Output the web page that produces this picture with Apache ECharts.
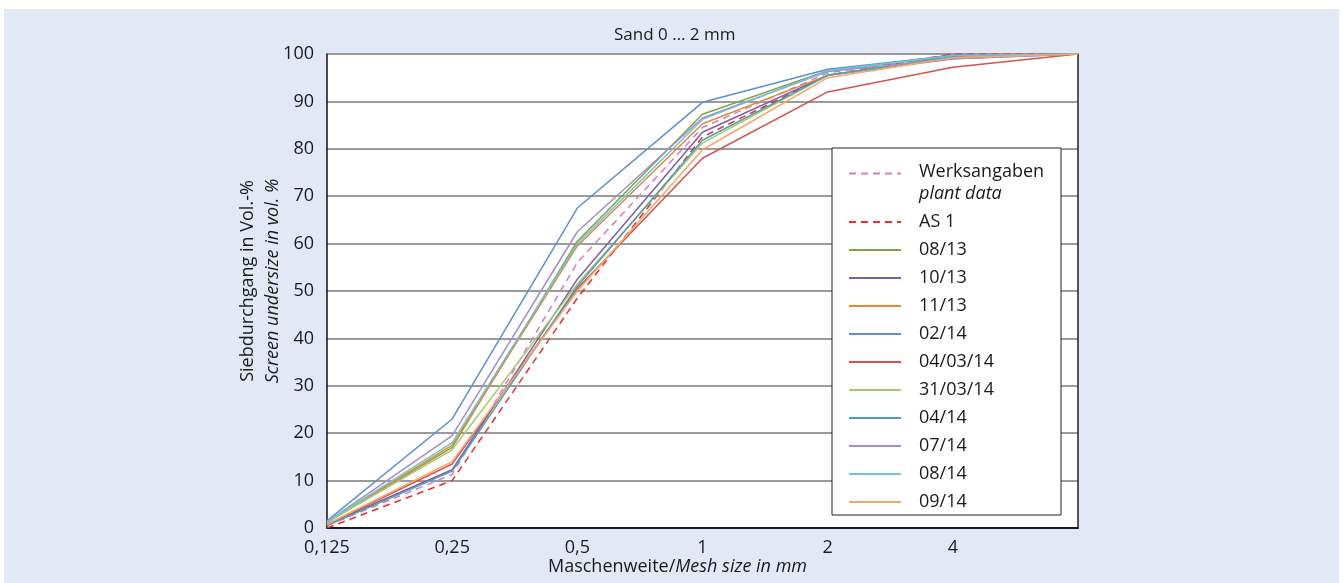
<!DOCTYPE html>
<html>
<head>
<meta charset="utf-8">
<script src="https://cdn.jsdelivr.net/npm/echarts@6/dist/echarts.min.js"></script>
<style>
html,body{margin:0;padding:0;background:#fff;}
#bg{position:absolute;left:4px;top:9px;width:1335px;height:574px;background:#e2e8f4;}
#chart{position:absolute;left:0;top:0;width:1343px;height:583px;}
</style>
</head>
<body>
<div id="bg"></div>
<div id="chart"></div>
<script>
// Mesh sizes (category axis, log-spaced)
const categories = ['0,125', '0,25', '0,5', '1', '2', '4', ''];
const yTicks = [0, 10, 20, 30, 40, 50, 60, 70, 80, 90, 100];

// Screen undersize in vol.-% per series
const werksangaben = [0.5, 11.3, 56, 84.5, 96, 100, 100];
const as1          = [0, 10, 48.5, 82.5, 95.5, 100, 100];
const s0813        = [1.2, 17, 60.5, 87.3, 96.5, 99.5, 100];
const s1013        = [0.8, 12.3, 52.5, 83.5, 95.5, 99, 100];
const s1113        = [1.2, 17.5, 59.5, 85.3, 95.5, 99.3, 100];
const s0214        = [1.5, 23, 67.5, 89.8, 96.8, 99.7, 100];
const s040314      = [0.7, 13.5, 50.5, 78, 92, 97.2, 100];
const s310314      = [1.2, 16.5, 51.5, 81.2, 95.5, 99.3, 100];
const s0414        = [0.5, 12, 51, 81.8, 95.5, 99.5, 100];
const s0714        = [1.3, 19.5, 62.5, 86.5, 96.3, 99, 100];
const s0814        = [1.3, 18, 60, 86.2, 96.5, 99.7, 100];
const s0914        = [0.8, 14, 50, 79.8, 95, 99.2, 100];

const seriesDefs = [
  ['Werksangaben', werksangaben, '#d27fc0', 'dashed'],
  ['AS 1', as1, '#ee2b2b', 'dashed'],
  ['08/13', s0813, '#7ea33f', 'solid'],
  ['10/13', s1013, '#7b5ea3', 'solid'],
  ['11/13', s1113, '#e2893a', 'solid'],
  ['02/14', s0214, '#5b8fd3', 'solid'],
  ['04/03/14', s040314, '#d4534f', 'solid'],
  ['31/03/14', s310314, '#a8c86a', 'solid'],
  ['04/14', s0414, '#4b9fb4', 'solid'],
  ['07/14', s0714, '#a68cc6', 'solid'],
  ['08/14', s0814, '#6cc5da', 'solid'],
  ['09/14', s0914, '#f6a765', 'solid']
];

const FONT = 'Open Sans';
const TXT = '#1a1a1a';
const FS = 18;

const chart = echarts.init(document.getElementById('chart'), null, {renderer: 'canvas'});
chart.setOption({
  animation: false,
  textStyle: {fontFamily: FONT},
  title: {
    text: 'Sand 0 … 2 mm',
    left: 614, top: 27, padding: 0,
    textStyle: {fontFamily: FONT, fontSize: 17, fontWeight: 'normal', color: TXT}
  },
  grid: {
    left: 327, top: 54, width: 751, height: 474,
    show: true, backgroundColor: '#ffffff', borderWidth: 0
  },
  graphic: [{
    type: 'rect', z: 3,
    shape: {x: 832, y: 148, width: 229, height: 367},
    style: {fill: '#ffffff', stroke: '#222', lineWidth: 1}
  }],
  legend: {
    orient: 'vertical',
    left: 848, top: 142, padding: 0,
    z: 10,
    itemWidth: 52, itemHeight: 14, itemGap: 10,
    itemStyle: {opacity: 0},
    data: seriesDefs.map(d => d[0]),
    formatter: function (name) {
      if (name === 'Werksangaben') return '{e| }\n{a|Werksangaben}\n{b|plant data}';
      return '{a|' + name + '}';
    },
    textStyle: {
      fontFamily: FONT, fontSize: FS, color: TXT, padding: [0, 0, 0, 13],
      rich: {
        e: {fontFamily: FONT, fontSize: FS, lineHeight: 23, color: TXT},
        a: {fontFamily: FONT, fontSize: FS, lineHeight: 18, color: TXT},
        b: {fontFamily: FONT, fontSize: FS, lineHeight: 27, fontStyle: 'italic', color: TXT}
      }
    }
  },
  xAxis: [{
    type: 'category',
    data: categories,
    boundaryGap: false,
    axisLine: {lineStyle: {color: '#111', width: 1.5}},
    axisTick: {show: false},
    axisLabel: {fontFamily: FONT, fontSize: FS, color: TXT, margin: 11},
    splitLine: {show: false},
    name: '{a|Maschenweite/}{b|Mesh size in mm}',
    nameLocation: 'middle',
    nameGap: 30,
    nameMoveOverlap: false,
    nameTextStyle: {
      padding: [0, 50, 0, 0],
      rich: {
        a: {fontFamily: FONT, fontSize: FS, color: TXT},
        b: {fontFamily: FONT, fontSize: FS, color: TXT, fontStyle: 'italic'}
      }
    }
  }, {
    type: 'category',
    data: categories,
    position: 'top',
    boundaryGap: false,
    axisLine: {lineStyle: {color: '#111', width: 1.5}},
    axisTick: {show: false},
    axisLabel: {show: false},
    splitLine: {show: false}
  }],
  yAxis: [{
    type: 'value',
    min: 0, max: 100, interval: 10,
    axisLine: {show: true, lineStyle: {color: '#111', width: 1.5}},
    axisTick: {show: false},
    axisLabel: {fontFamily: FONT, fontSize: FS, color: TXT, margin: 13,
      formatter: v => (yTicks.indexOf(v) >= 0 ? String(v) : '')},
    splitLine: {show: true, lineStyle: {color: '#7a7a7a', width: 1.5}},
    name: '{a|Siebdurchgang in Vol.-%}\n{b|Screen undersize in vol. %}',
    nameLocation: 'middle',
    nameRotate: 90,
    nameGap: 42,
    nameMoveOverlap: false,
    nameTextStyle: {
      padding: [0, 0, 0, 20],
      rich: {
        a: {fontFamily: FONT, fontSize: FS, color: TXT, lineHeight: 25},
        b: {fontFamily: FONT, fontSize: FS, color: TXT, fontStyle: 'italic', lineHeight: 25}
      }
    }
  }, {
    type: 'value',
    position: 'right',
    min: 0, max: 100, interval: 10,
    axisLine: {show: true, lineStyle: {color: '#222', width: 1.5}},
    axisTick: {show: false},
    axisLabel: {show: false},
    splitLine: {show: false}
  }],
  series: seriesDefs.map(d => ({
    name: d[0],
    type: 'line',
    data: d[1],
    symbol: 'none',
    z: 2,
    color: d[2],
    lineStyle: {color: d[2], width: 1.5, type: d[3] === 'dashed' ? [7, 5] : 'solid'}
  }))
});
</script>
</body>
</html>
